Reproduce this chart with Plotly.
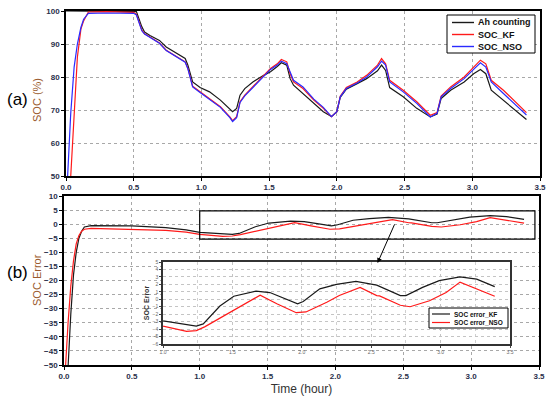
import plotly.graph_objects as go

# ---------------- data: panel (a) SOC (%) ----------------
t_soc = [0.0, 0.012, 0.035, 0.06, 0.084, 0.11, 0.13, 0.165, 0.3, 0.5, 0.52, 0.56, 0.58, 0.62,
         0.69, 0.74, 0.82, 0.88, 0.90, 0.935, 0.99, 1.06, 1.14, 1.21, 1.23, 1.26, 1.285, 1.32,
         1.38, 1.46, 1.51, 1.56, 1.59, 1.63, 1.655, 1.68, 1.75, 1.83, 1.90, 1.96, 2.0, 2.025,
         2.07, 2.15, 2.22, 2.30, 2.33, 2.36, 2.39, 2.49, 2.59, 2.69, 2.74, 2.77, 2.84, 2.94,
         3.01, 3.06, 3.10, 3.14, 3.23, 3.33, 3.40]
soc_ah = [100, 100, 100, 100, 100, 100, 100, 100, 100, 100, 99.8, 95.2, 93.6, 92.6,
          91.1, 89.1, 87.1, 85.6, 83.6, 78.5, 76.8, 75.5, 73.0, 70.3, 69.5, 70.5, 74.5, 76.5,
          78.5, 80.5, 81.6, 83.2, 84.3, 83.6, 79.5, 77.5, 75.0, 72.0, 69.5, 68.0, 69.5, 73.8,
          76.3, 78.0, 79.5, 81.9, 83.6, 82.0, 76.8, 74.0, 70.5, 67.9, 68.8, 73.5, 76.0, 78.5,
          81.0, 82.3, 81.0, 76.0, 73.0, 69.5, 67.1]
soc_kf = [20, 35, 50, 70, 86, 94.5, 97, 99.7, 99.8, 99.6, 99.0, 94.2, 93.1, 92.1,
          90.3, 88.1, 86.1, 84.6, 82.6, 77.2, 75.5, 73.5, 71.0, 67.9, 66.8, 68.0, 72.5, 74.5,
          77.0, 80.2, 82.6, 84.0, 85.3, 84.6, 81.0, 78.5, 76.5, 73.0, 70.5, 68.0, 69.5, 74.2,
          76.8, 78.5, 80.5, 83.6, 85.6, 84.0, 79.0, 76.0, 72.5, 68.4, 69.2, 74.2, 77.0, 80.0,
          83.0, 85.1, 84.0, 79.0, 76.0, 72.0, 69.2]
soc_nso = [30, 50, 69, 83, 90, 95, 97.5, 99.3, 99.4, 99.3, 98.8, 94.0, 93.0, 92.0,
           90.2, 88.0, 86.0, 84.5, 82.5, 77.0, 75.3, 73.3, 70.8, 67.7, 66.5, 67.7, 72.3, 74.3,
           76.8, 80.0, 82.3, 83.6, 84.8, 84.0, 81.6, 79.0, 77.0, 73.3, 70.8, 68.0, 69.5, 74.0,
           76.5, 78.2, 80.0, 83.1, 84.8, 83.6, 78.5, 75.5, 72.0, 67.9, 69.0, 74.0, 76.5, 79.5,
           82.3, 84.3, 83.0, 78.5, 75.0, 71.0, 68.5]
soc_names = ["Ah counting", "SOC_KF", "SOC_NSO"]

# ---------------- data: panel (b) SOC error ----------------
t_err_kf = [0.02, 0.03, 0.05, 0.07, 0.09, 0.11, 0.13, 0.15, 0.2, 0.5, 0.75, 0.9, 1.0, 1.24,
            1.29, 1.41, 1.51, 1.67, 1.77, 1.89, 1.97, 2.01, 2.13, 2.25, 2.39, 2.54, 2.71,
            2.75, 2.87, 2.99, 3.14, 3.26, 3.39]
err_kf = [-60, -50, -32, -18, -10, -5, -2.5, -1.0, -0.5, -0.6, -1.2, -2.0, -2.9, -3.6,
          -3.3, -0.9, 0.4, 1.1, 0.9, 0.0, -0.6, -0.3, 1.4, 2.0, 2.4, 1.9, 0.5,
          0.5, 1.6, 2.5, 3.0, 2.7, 1.7]
t_err_nso = [0.0, 0.01, 0.03, 0.05, 0.07, 0.09, 0.11, 0.13, 0.15, 0.2, 0.5, 0.75, 0.9, 1.0,
             1.17, 1.24, 1.30, 1.46, 1.70, 1.82, 1.96, 2.03, 2.18, 2.27, 2.42, 2.54, 2.56,
             2.71, 2.78, 2.92, 3.04, 3.14, 3.26, 3.39]
err_nso = [-60, -50, -35, -22, -13, -7, -4, -2.5, -1.8, -1.5, -1.8, -2.2, -2.8, -3.6,
           -4.3, -4.2, -3.7, -2.0, 0.55, -0.6, -1.8, -1.7, -0.4, 0.5, 1.6, 0.5, 0.45,
           -0.8, -1.0, -0.2, 0.9, 2.3, 1.4, 0.4]
err_names = ["SOC error_KF", "SOC error_NSO"]

# zoom window shown in the inset
zoom_x = [1.0, 3.47]
zoom_y = [-5.3, 4.7]

BLACK = "#1a1a1a"
RED = "#ff1a1a"
BLUE = "#2a2aff"
TICKC = "#2a2f4a"
TITLEC = "#9a5a2c"
FONT = "Liberation Sans, Arial, sans-serif"
LW = 1.2

fig = go.Figure()

# panel (a)
for yv, nm, col in zip([soc_ah, soc_kf, soc_nso], soc_names, [BLACK, RED, BLUE]):
    fig.add_trace(go.Scatter(x=t_soc, y=yv, mode="lines", name=nm, showlegend=False,
                             line=dict(color=col, width=LW), xaxis="x", yaxis="y"))

# panel (b) and inset
for ax in [("x2", "y2"), ("x3", "y3")]:
    fig.add_trace(go.Scatter(x=t_err_kf, y=err_kf, mode="lines", name=err_names[0],
                             showlegend=False, line=dict(color=BLACK, width=LW),
                             xaxis=ax[0], yaxis=ax[1]))
    fig.add_trace(go.Scatter(x=t_err_nso, y=err_nso, mode="lines", name=err_names[1],
                             showlegend=False, line=dict(color=RED, width=LW),
                             xaxis=ax[0], yaxis=ax[1]))

W, H = 550, 398
def px(x): return x / W
def py(y): return 1 - y / H

grid = dict(showgrid=True, gridcolor="#a8a8a8", griddash="dot", gridwidth=1)
frame = dict(showline=True, linecolor="black", linewidth=1.5, mirror=True, zeroline=False,
             ticks="outside", ticklen=3, tickcolor="black", automargin=False)
tickf = dict(family=FONT, size=8, color=TICKC, weight="bold")
inset_ax = dict(tickfont=dict(family=FONT, size=5, color="#666666"),
                showgrid=True, gridcolor="#c4c4c4", griddash="dot", gridwidth=1,
                showline=True, linecolor="#333333", linewidth=1.5, mirror=True, zeroline=False,
                ticks="outside", ticklen=2, automargin=False)

shapes = [dict(type="rect", xref="x2", yref="y2", x0=zoom_x[0], x1=zoom_x[1],
               y0=zoom_y[0], y1=zoom_y[1], line=dict(color="black", width=1.2),
               fillcolor="rgba(0,0,0,0)")]
annotations = [
    dict(x=2.31, y=-13.8, xref="x2", yref="y2", ax=2.44, ay=0.4, axref="x2", ayref="y2",
         text="", showarrow=True, arrowhead=2, arrowsize=1, arrowwidth=1, arrowcolor="black"),
    dict(x=px(17), y=py(100), xref="paper", yref="paper", text="(a)", showarrow=False,
         xanchor="center", yanchor="middle", font=dict(family=FONT, size=17, color="black")),
    dict(x=px(17), y=py(272), xref="paper", yref="paper", text="(b)", showarrow=False,
         xanchor="center", yanchor="middle", font=dict(family=FONT, size=17, color="black")),
    dict(x=px(37), y=py(100), xref="paper", yref="paper", text="SOC (%)", showarrow=False,
         textangle=-90, xanchor="center", yanchor="middle",
         font=dict(family=FONT, size=11, color=TITLEC)),
    dict(x=px(37), y=py(280), xref="paper", yref="paper", text="SOC Error", showarrow=False,
         textangle=-90, xanchor="center", yanchor="middle",
         font=dict(family=FONT, size=11, color=TITLEC)),
]

# legend of panel (a), drawn in paper pixels
shapes.append(dict(type="rect", xref="paper", yref="paper", x0=px(447), x1=px(535),
                   y0=py(53), y1=py(15), line=dict(color="black", width=1), fillcolor="white",
                   layer="above"))
for i, (nm, col) in enumerate(zip(soc_names, [BLACK, RED, BLUE])):
    yc = 22.5 + i * 12
    shapes.append(dict(type="line", xref="paper", yref="paper", x0=px(452), x1=px(474),
                       y0=py(yc), y1=py(yc), line=dict(color=col, width=1.4), layer="above"))
    annotations.append(dict(x=px(476), y=py(yc), xref="paper", yref="paper", text=nm,
                            showarrow=False, xanchor="left", yanchor="middle",
                            font=dict(family=FONT, size=9, color="#111111", weight="bold")))

# legend of inset
shapes.append(dict(type="rect", xref="paper", yref="paper", x0=px(429), x1=px(508),
                   y0=py(328), y1=py(308), line=dict(color="black", width=1), fillcolor="white",
                   layer="above"))
for i, (nm, col) in enumerate(zip(err_names, [BLACK, RED])):
    yc = 314 + i * 8.5
    shapes.append(dict(type="line", xref="paper", yref="paper", x0=px(432), x1=px(450),
                       y0=py(yc), y1=py(yc), line=dict(color=col, width=1.2), layer="above"))
    annotations.append(dict(x=px(452), y=py(yc), xref="paper", yref="paper", text=nm,
                            showarrow=False, xanchor="left", yanchor="middle",
                            font=dict(family=FONT, size=6.5, color="#111111", weight="bold")))

fig.update_layout(
    width=W, height=H, autosize=False,
    margin=dict(l=0, r=0, t=0, b=0),
    paper_bgcolor="white", plot_bgcolor="white",
    font=dict(family=FONT),
    showlegend=False,
    xaxis=dict(domain=[px(66), px(540)], anchor="y", range=[0, 3.5], dtick=0.5,
               tickformat=".1f", tickfont=tickf, **grid, **frame),
    yaxis=dict(domain=[py(176), py(11)], anchor="x", range=[50, 100], dtick=10,
               tickfont=tickf, **grid, **frame),
    xaxis2=dict(domain=[px(64), px(539)], anchor="y2", range=[0, 3.5], dtick=0.5,
                tickformat=".1f", tickfont=tickf,
                title=dict(text="Time (hour)", font=dict(size=12, color="#333333"), standoff=4),
                **grid, **frame),
    yaxis2=dict(domain=[py(365), py(196)], anchor="x2", range=[-50, 10], dtick=5,
                tickfont=tickf, **grid, **frame),
    xaxis3=dict(domain=[px(163), px(510)], anchor="y3", range=[1.0, 3.5], dtick=0.5,
                tickformat=".1f",
                minor=dict(dtick=0.25, showgrid=True, gridcolor="#d0d0d0", griddash="dot"),
                **inset_ax),
    yaxis3=dict(domain=[py(344), py(262)], anchor="x3", range=[-6, 5], dtick=1,
                title=dict(text="SOC Error", font=dict(size=7, color="#333333", weight="bold"),
                           standoff=2),
                **inset_ax),
    shapes=shapes,
    annotations=annotations,
)

fig.write_html("out.html", config={"displayModeBar": False},
               post_script="document.body.style.margin='0';"
                           "document.body.style.overflow='hidden';")
